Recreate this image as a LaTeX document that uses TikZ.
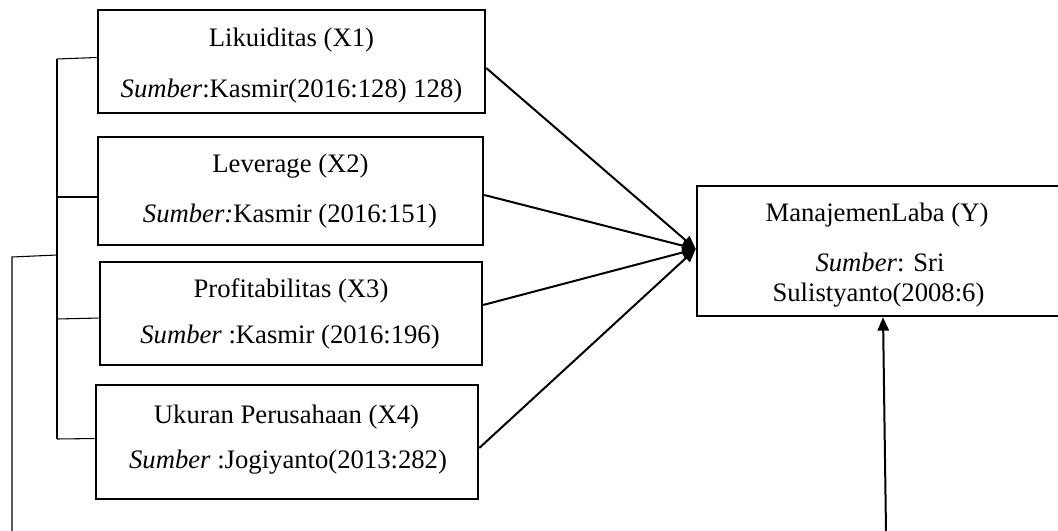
\documentclass[tikz,border=0pt]{standalone}
\usepackage{fontspec}
\setmainfont{Liberation Serif}
\usetikzlibrary{arrows.meta}
\tikzset{
  varbox/.style={draw, line width=1.9pt, rectangle, inner sep=0pt},
  txt/.style={anchor=base, inner sep=0pt, font=\fontsize{20pt}{24pt}\selectfont},
  conn/.style={line width=1.5pt, -{Triangle[length=10pt,width=8.5pt]}},
  bracket/.style={line width=0.8pt}
}
\begin{document}
\begin{tikzpicture}[x=0.75pt,y=-0.75pt]
\useasboundingbox (0,0) rectangle (1058,531);
% boxes
\node[varbox, minimum width=290.25pt, minimum height=77.25pt] (x1) at (291.5,61.5) {};
\node[varbox, minimum width=288.75pt, minimum height=81pt] (x2) at (290.5,191) {};
\node[varbox, minimum width=286.5pt, minimum height=77.25pt] (x3) at (291,313.5) {};
\node[varbox, minimum width=286.5pt, minimum height=85.5pt] (x4) at (287,442) {};
\node[varbox, minimum width=272.25pt, minimum height=97.5pt] (y) at (878.5,251) {};
% texts
\node[txt] (x1a) at (291.5,47) {Likuiditas (X1)};
\node[txt] (x1b) at (291.5,98) {\textit{Sumber}:Kasmir(2016:128) 128)};
\node[txt] (x2a) at (290.5,173) {Leverage (X2)};
\node[txt] (x2b) at (290,223) {\textit{Sumber:}Kasmir (2016:151)};
\node[txt] (x3a) at (291,298) {Profitabilitas (X3)};
\node[txt] (x3b) at (290,344) {\textit{Sumber} :Kasmir (2016:196)};
\node[txt] (x4a) at (286.5,423) {Ukuran Perusahaan (X4)};
\node[txt] (x4b) at (288,468) {\textit{Sumber} :Jogiyanto(2013:282)};
\node[txt] (ya) at (877,222) {ManajemenLaba (Y)};
\node[txt] (yb) at (880,272) {\textit{Sumber}: Sri};
\node[txt] (yc) at (878.5,302) {Sulistyanto(2008:6)};
% connectors
\draw[conn] ([yshift=-4.9pt]x1.east) -- ([yshift=1.5pt]y.west);
\draw[conn] ([yshift=-3pt]x2.east) -- ([yshift=1.5pt]y.west);
\draw[conn] ([yshift=6.4pt]x3.east) -- ([yshift=1.5pt]y.west);
\draw[conn] ([yshift=-4.5pt]x4.east) -- ([yshift=1.5pt]y.west);
\coordinate (bot) at (886,531);
\draw[conn] (bot) -- ([xshift=3.4pt]y.south);
% bracket
\coordinate (b1) at (57,59);
\coordinate (b2) at (57,197);
\coordinate (b3) at (57,319);
\coordinate (b4) at (57,439);
\coordinate (o1) at (12,257);
\coordinate (o2) at (12,531);
\coordinate (bm) at (57,255);
\draw[bracket] (b1) -- (b4);
\draw[bracket] (b1) -- ([yshift=3pt]x1.west);
\draw[bracket] (b2) -- ([yshift=-4.5pt]x2.west);
\draw[bracket] (b3) -- ([yshift=-3.4pt]x3.west);
\draw[bracket] (b4) -- ([yshift=2.6pt]x4.west);
\draw[bracket] (o2) -- (o1) -- (bm);
\end{tikzpicture}
\end{document}
